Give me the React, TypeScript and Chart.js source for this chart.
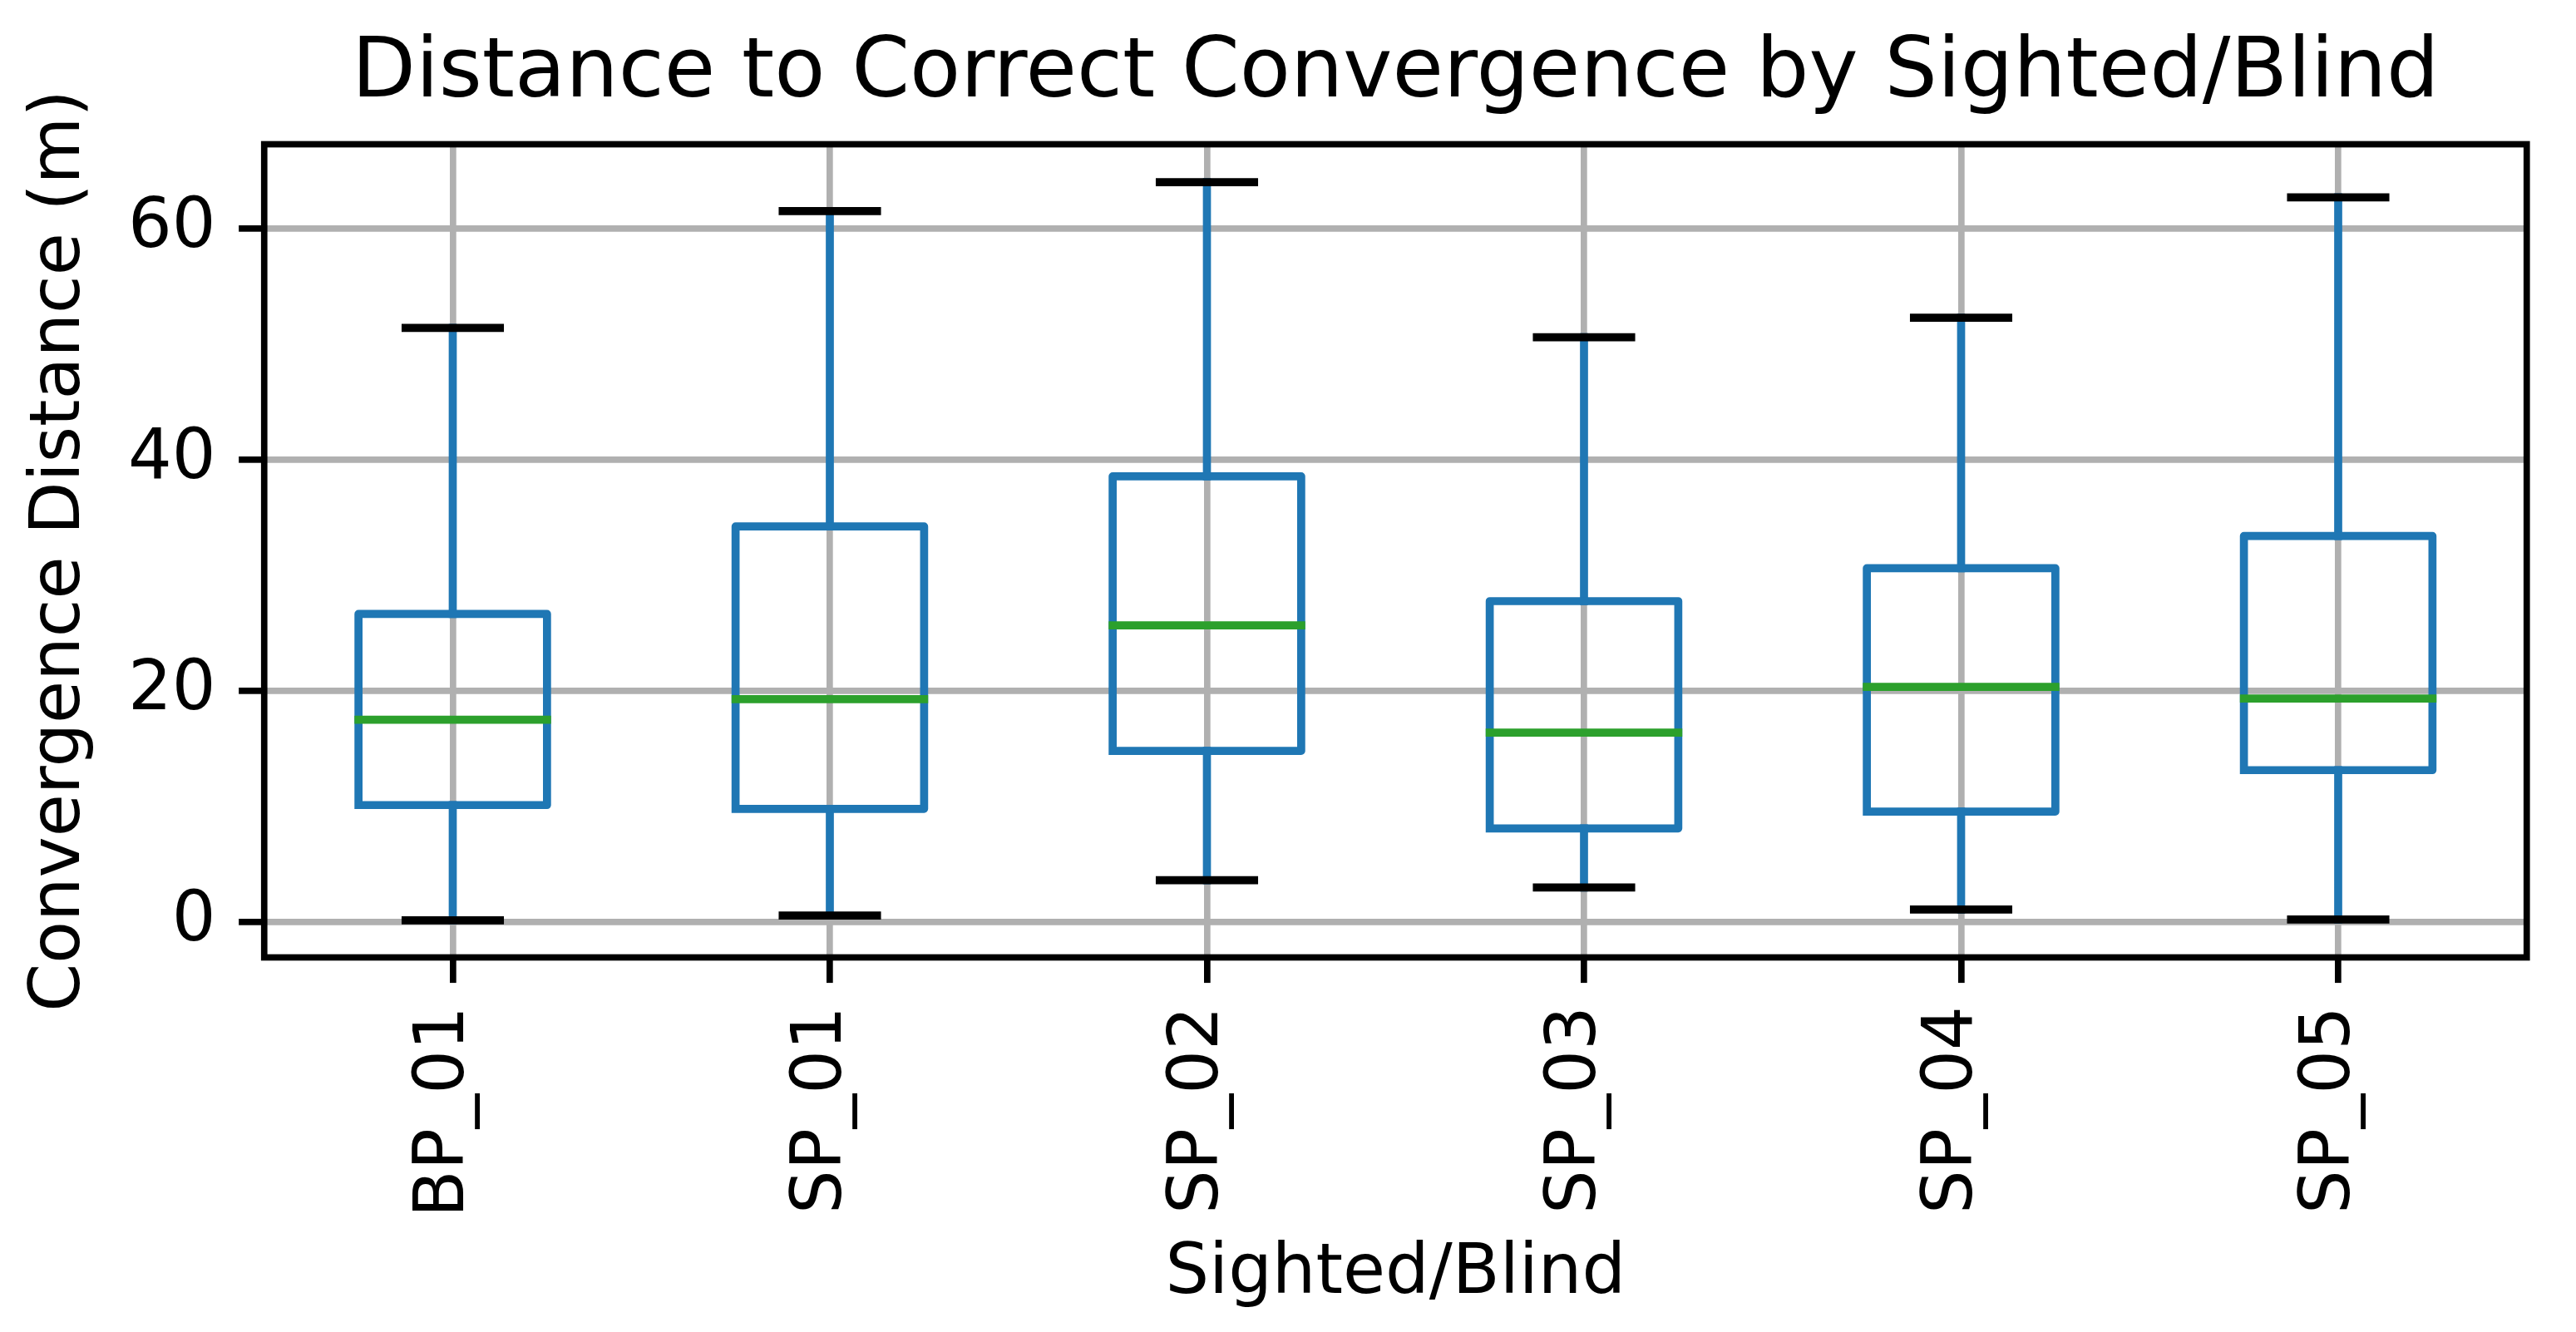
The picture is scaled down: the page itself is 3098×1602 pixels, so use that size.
import React, { useEffect, useRef } from 'react';
import { Chart, registerables } from 'chart.js';

Chart.register(...registerables);

// ---- data ----
const categories = ['BP_01', 'SP_01', 'SP_02', 'SP_03', 'SP_04', 'SP_05'];
const whiskerLow = [0.17, 0.58, 3.64, 3.01, 1.11, 0.24];
const q1 = [10.14, 9.81, 14.82, 8.12, 9.57, 13.16];
const medians = [17.52, 19.3, 25.69, 16.41, 20.36, 19.35];
const q3 = [26.67, 34.24, 38.58, 27.78, 30.63, 33.42];
const whiskerHigh = [51.42, 61.52, 64.02, 50.6, 52.29, 62.7];
const yTicks = [0, 20, 40, 60];

const TITLE = 'Distance to Correct Convergence by Sighted/Blind';
const X_TITLE = 'Sighted/Blind';
const Y_TITLE = 'Convergence Distance (m)';

// ---- styling ----
const W = 3098;
const H = 1602;
const FONT = "'DejaVu Sans'";
const BLUE = '#1f77b4';
const GREEN = '#2ca02c';
const GRID = '#b0b0b0';
const LW = 9.7;
const THIN = 7.7;
const BOX_HALF = 0.25;
const CAP_HALF = 0.125;

const pos = (i: number) => i + 1;
const gap = (i: number) => ({ x: pos(i), y: null as number | null });

const whiskerData = categories.flatMap((_, i) => [
  { x: pos(i), y: whiskerLow[i] },
  { x: pos(i), y: q1[i] },
  gap(i),
  { x: pos(i), y: q3[i] },
  { x: pos(i), y: whiskerHigh[i] },
  gap(i),
]);

const capData = categories.flatMap((_, i) => [
  { x: pos(i) - CAP_HALF, y: whiskerLow[i] },
  { x: pos(i) + CAP_HALF, y: whiskerLow[i] },
  gap(i),
  { x: pos(i) - CAP_HALF, y: whiskerHigh[i] },
  { x: pos(i) + CAP_HALF, y: whiskerHigh[i] },
  gap(i),
]);

const boxData = categories.flatMap((_, i) => [
  { x: pos(i) - BOX_HALF, y: q1[i] },
  { x: pos(i) + BOX_HALF, y: q1[i] },
  { x: pos(i) + BOX_HALF, y: q3[i] },
  { x: pos(i) - BOX_HALF, y: q3[i] },
  { x: pos(i) - BOX_HALF, y: q1[i] },
  gap(i),
]);

const medianData = categories.flatMap((_, i) => [
  { x: pos(i) - BOX_HALF, y: medians[i] },
  { x: pos(i) + BOX_HALF, y: medians[i] },
  gap(i),
]);

const lineStyle = {
  borderWidth: LW,
  borderCapStyle: 'square' as const,
  borderJoinStyle: 'round' as const,
  pointRadius: 0,
  pointHoverRadius: 0,
  fill: false,
  tension: 0,
  spanGaps: false,
};

const framePlugin = {
  id: 'frame',
  afterDatasetsDraw(chart: any) {
    const { ctx, chartArea: a } = chart;
    ctx.save();
    ctx.strokeStyle = '#000';
    ctx.lineWidth = THIN;
    ctx.lineJoin = 'miter';
    ctx.strokeRect(a.left, a.top, a.right - a.left, a.bottom - a.top);
    ctx.restore();
  },
};

export default function App() {
  const ref = useRef<HTMLCanvasElement>(null);

  useEffect(() => {
    document.body.style.margin = '0';
    Chart.defaults.font.family = FONT;
    Chart.defaults.color = '#000';
    const gridOpts = {
      color: GRID,
      lineWidth: THIN,
      drawTicks: true,
      tickLength: 30.6,
      tickWidth: THIN,
      tickColor: '#000',
    };
    const chart = new Chart(ref.current as HTMLCanvasElement, {
      type: 'line',
      data: {
        datasets: [
          { label: 'median', data: medianData, borderColor: GREEN, order: 1, ...lineStyle },
          { label: 'box', data: boxData, borderColor: BLUE, order: 2, ...lineStyle },
          { label: 'caps', data: capData, borderColor: '#000', order: 3, ...lineStyle },
          { label: 'whiskers', data: whiskerData, borderColor: BLUE, order: 4, ...lineStyle },
        ] as any,
      },
      options: {
        responsive: false,
        devicePixelRatio: 1,
        animation: false,
        events: [],
        layout: { padding: { left: 0, top: 0, right: 59.25, bottom: 0 } },
        plugins: {
          legend: { display: false },
          tooltip: { enabled: false },
          title: {
            display: true,
            text: TITLE,
            color: '#000',
            fullSize: false,
            font: { family: FONT, size: 100, weight: 'normal', lineHeight: 1.2 },
            padding: { top: 30.4, bottom: 23.1 },
          },
        },
        scales: {
          x: {
            type: 'linear',
            min: 0.5,
            max: 6.5,
            afterBuildTicks: (s: any) => {
              s.ticks = categories.map((_, i) => ({ value: pos(i) }));
            },
            afterFit: (s: any) => {
              s.height = 450.5;
            },
            ticks: {
              callback: (_v: any, i: number) => categories[i],
              minRotation: 90,
              maxRotation: 90,
              autoSkip: false,
              padding: 28,
              labelOffset: -9,
              color: '#000',
              font: { family: FONT, size: 83 },
            },
            grid: gridOpts,
            border: { display: false },
            title: {
              display: true,
              text: X_TITLE,
              color: '#000',
              font: { family: FONT, size: 83, lineHeight: 1.2 },
              padding: { top: 0, bottom: 18.9 },
            },
          },
          y: {
            type: 'linear',
            min: -3.04,
            max: 67.3,
            afterBuildTicks: (s: any) => {
              s.ticks = yTicks.map((v) => ({ value: v }));
            },
            afterFit: (s: any) => {
              s.width = 317.75;
            },
            ticks: {
              callback: (v: any) => String(v),
              padding: 27.6,
              color: '#000',
              font: { family: FONT, size: 83 },
            },
            grid: gridOpts,
            border: { display: false },
            title: {
              display: true,
              text: Y_TITLE,
              color: '#000',
              font: { family: FONT, size: 83, lineHeight: 1.2 },
              padding: { top: 23.6, bottom: 0 },
            },
          },
        },
      } as any,
      plugins: [framePlugin],
    });
    return () => chart.destroy();
  }, []);

  return (
    <div style={{ position: 'absolute', left: 0, top: 0, width: W, height: H, background: '#fff' }}>
      <canvas ref={ref} width={W} height={H} style={{ display: 'block', width: W, height: H }} />
    </div>
  );
}
